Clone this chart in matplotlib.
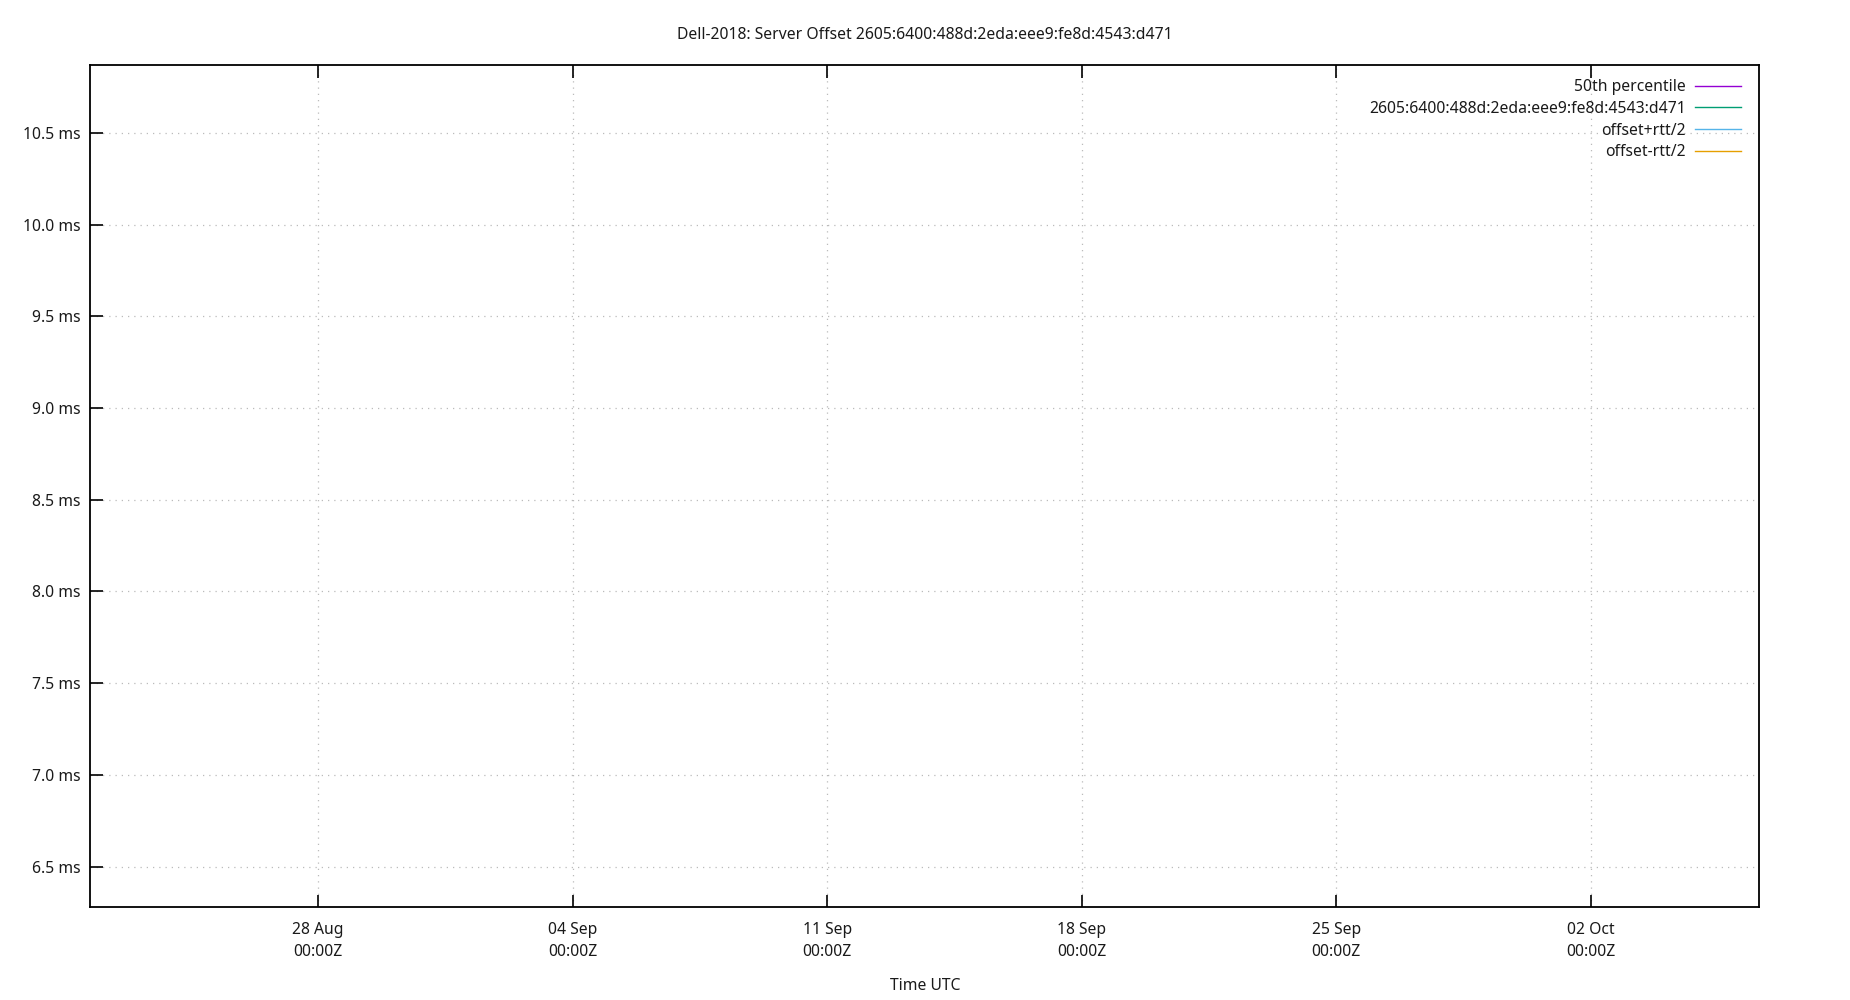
import datetime as dt
import matplotlib
matplotlib.use("Agg")
import matplotlib.pyplot as plt
import matplotlib.dates as mdates
import matplotlib.ticker as mticker

plt.rcParams["font.family"] = ["Noto Sans", "DejaVu Sans"]
plt.rcParams["font.size"] = 11.3

# --------- data (the chart has no points, only legend entries) ---------

series_names = ["50th percentile",
                "2605:6400:488d:2eda:eee9:fe8d:4543:d471",
                "offset+rtt/2",
                "offset-rtt/2"]
series_colors = ["#9400d3", "#009e73", "#56b4e9", "#e69f00"]
series_times = [[], [], [], []]
series_values = [[], [], [], []]

tick_dates = [dt.datetime(2023, 8, 28), dt.datetime(2023, 9, 4),
              dt.datetime(2023, 9, 11), dt.datetime(2023, 9, 18),
              dt.datetime(2023, 9, 25), dt.datetime(2023, 10, 2)]
y_ticks = [6.5, 7.0, 7.5, 8.0, 8.5, 9.0, 9.5, 10.0, 10.5]

x_start = dt.datetime(2023, 8, 21, 17, 30)
x_end = dt.datetime(2023, 10, 6, 15, 0)
y_min, y_max = 6.28, 10.87

fig = plt.figure(figsize=(18.5, 10), dpi=100)
ax = fig.add_axes([90 / 1850, 1 - 907 / 1000, 1669 / 1850, 842 / 1000])

for name, color, t, v in zip(series_names, series_colors, series_times, series_values):
    ax.plot(t, v, color=color, linewidth=1.0, label=name)

ax.set_xlim(x_start, x_end)
ax.set_ylim(y_min, y_max)

ax.set_xticks(tick_dates)
ax.xaxis.set_major_formatter(mdates.DateFormatter("%d %b\n%H:%MZ"))
ax.set_yticks(y_ticks)
ax.yaxis.set_major_formatter(mticker.FuncFormatter(lambda v, p: f"{v:.1f} ms"))

ax.tick_params(axis="both", direction="in", length=9, width=1.2, colors="black",
               labelcolor="#1a1a1a", labelsize=11.3)
ax.tick_params(axis="x", top=True, bottom=True, pad=11)
ax.tick_params(axis="y", left=True, right=False, pad=6.5)
for lbl in ax.get_xticklabels():
    lbl.set_linespacing(1.45)

ax.grid(True, linestyle=(0, (1, 4)), color="#bbbbbb", linewidth=0.9)
for s in ax.spines.values():
    s.set_linewidth(1.3)

fig.text(925 / 1850, 1 - 35 / 1000, "Dell-2018: Server Offset 2605:6400:488d:2eda:eee9:fe8d:4543:d471",
         ha="center", va="center", fontsize=11.3, color="#1a1a1a")
fig.text(925 / 1850, 1 - 990 / 1000, "Time UTC", ha="center", va="baseline",
         fontsize=11.3, color="#1a1a1a")

leg = ax.legend(loc="upper right", bbox_to_anchor=(1 - 18 / 1669, 1 - 14 / 842),
                frameon=False, markerfirst=False, borderaxespad=0, borderpad=0,
                handlelength=2.9, handletextpad=0.6, labelspacing=0.37)
for txt in leg.get_texts():
    txt.set_color("#1a1a1a")

fig.savefig("out.png", dpi=100)
